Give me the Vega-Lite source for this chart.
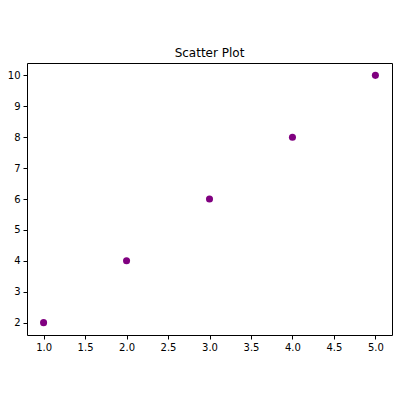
{
  "$schema": "https://vega.github.io/schema/vega-lite/v6.json",
  "autosize": "none",
  "padding": {"left": 27, "top": 63, "right": 8, "bottom": 65},
  "width": 365,
  "height": 272,
  "title": {"text": "Scatter Plot", "font": "DejaVu Sans", "fontSize": 12, "fontWeight": "normal", "color": "#000000", "offset": 3},
  "data": {"values": [
    {"x": 1, "y": 2},
    {"x": 2, "y": 4},
    {"x": 3, "y": 6},
    {"x": 4, "y": 8},
    {"x": 5, "y": 10}
  ]},
  "mark": {"type": "point", "filled": true, "color": "#800080", "opacity": 1, "size": 50},
  "encoding": {
    "x": {"field": "x", "type": "quantitative", "scale": {"domain": [0.8, 5.2], "nice": false, "zero": false},
      "axis": {"values": [1, 1.5, 2, 2.5, 3, 3.5, 4, 4.5, 5], "format": ".1f", "title": null, "grid": false, "domain": false,
        "tickColor": "#000000", "tickSize": 4, "labelFont": "DejaVu Sans", "labelFontSize": 10, "labelColor": "#000000", "labelPadding": 3}},
    "y": {"field": "y", "type": "quantitative", "scale": {"domain": [1.6, 10.4], "nice": false, "zero": false},
      "axis": {"values": [2, 3, 4, 5, 6, 7, 8, 9, 10], "title": null, "grid": false, "domain": false,
        "tickColor": "#000000", "tickSize": 4, "labelFont": "DejaVu Sans", "labelFontSize": 10, "labelColor": "#000000", "labelPadding": 3}}
  },
  "config": {"view": {"stroke": "#000000", "strokeWidth": 1}}
}
